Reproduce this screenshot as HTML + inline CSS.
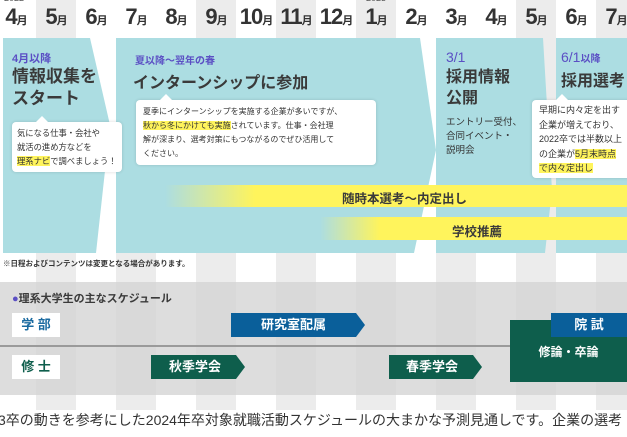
<!DOCTYPE html>
<html><head><meta charset="utf-8"><style>
*{margin:0;padding:0;box-sizing:border-box}
body{width:627px;height:437px;overflow:hidden;background:#fff;font-family:"Liberation Sans","Noto Sans CJK JP",sans-serif;position:relative;color:#3a3a3a}
.a{position:absolute;white-space:nowrap}
.m{position:absolute;top:4px;font-size:22px;font-weight:bold;color:#333;width:40px;text-align:center;letter-spacing:-1px}
.m small{font-size:11px}
.pur{color:#5b4fc4;font-weight:bold}
.h{font-weight:bold;color:#3a3a3a}
.cb{position:absolute;background:#fff;border-radius:4px;box-shadow:0 0 3px rgba(0,0,0,.15);font-size:8.5px;line-height:15px;padding:5px 7px;color:#333;white-space:nowrap;overflow:visible}
.cb:before{content:"";position:absolute;top:-6px;left:24px;border-left:6px solid transparent;border-right:6px solid transparent;border-bottom:6px solid #fff}
.hl{background:#fff45c}
.tag{position:absolute;color:#fff;font-weight:bold;font-size:13px;text-align:center;line-height:24px}
</style></head><body>
<svg class="a" style="left:0;top:0" width="627" height="437">
<g fill="#ececec">
<rect x="36" y="0" width="40" height="410"/><rect x="116" y="38" width="40" height="372"/><rect x="196" y="0" width="40" height="410"/><rect x="276" y="0" width="40" height="410"/><rect x="356" y="0" width="40" height="410"/><rect x="436" y="38" width="40" height="372"/><rect x="516" y="0" width="40" height="410"/><rect x="596" y="0" width="40" height="410"/>
</g>
<g fill="#acdde2">
<polygon points="3,38 90,38 110,125 96,253 3,253"/>
<polygon points="116,38 420,38 436,150 414,253 116,253"/>
<polygon points="436,38 543,38 552,190 545,253 436,253"/>
<polygon points="556,38 627,38 627,253 556,253"/>
</g>
<defs>
<linearGradient id="g1" x1="0" x2="1"><stop offset="0" stop-color="#fff45c" stop-opacity="0"/><stop offset="1" stop-color="#fff45c"/></linearGradient>
</defs>
<rect x="165" y="185" width="90" height="22" fill="url(#g1)"/><rect x="255" y="185" width="372" height="22" fill="#fff45c"/>
<rect x="320" y="217" width="60" height="23" fill="url(#g1)"/><rect x="380" y="217" width="247" height="23" fill="#fff45c"/>
<rect x="0" y="282" width="627" height="113" fill="#d4d4d4" fill-opacity="0.8"/>
<rect x="0" y="345" width="627" height="2" fill="#9a9a9a"/>
<polygon points="231,313 356,313 365,325 356,337 231,337" fill="#0a5f9a"/>
<polygon points="151,355 236,355 245,367 236,379 151,379" fill="#0e5e4c"/>
<polygon points="389,355 473,355 482,367 473,379 389,379" fill="#0e5e4c"/>
<rect x="510" y="320" width="117" height="62" fill="#0e5e4c"/>
<rect x="551" y="313" width="76" height="24" fill="#0a5f9a"/>
<rect x="12" y="313" width="48" height="24" fill="#fff"/><rect x="12" y="355" width="48" height="24" fill="#fff"/>
</svg>
<div class="a" style="left:4px;top:-7px;font-size:9px;color:#555">2022</div>
<div class="a" style="left:366px;top:-7px;font-size:9px;color:#555">2023</div>
<div class="m" style="left:-4px">4<small>月</small></div><div class="m" style="left:36px">5<small>月</small></div><div class="m" style="left:76px">6<small>月</small></div><div class="m" style="left:116px">7<small>月</small></div><div class="m" style="left:156px">8<small>月</small></div><div class="m" style="left:196px">9<small>月</small></div><div class="m" style="left:236px">10<small>月</small></div><div class="m" style="left:276px">11<small>月</small></div><div class="m" style="left:316px">12<small>月</small></div><div class="m" style="left:356px">1<small>月</small></div><div class="m" style="left:396px">2<small>月</small></div><div class="m" style="left:436px">3<small>月</small></div><div class="m" style="left:476px">4<small>月</small></div><div class="m" style="left:516px">5<small>月</small></div><div class="m" style="left:556px">6<small>月</small></div><div class="m" style="left:596px">7<small>月</small></div>

<div class="a pur" style="left:12px;top:50px;font-size:11px">4月以降</div>
<div class="a h" style="left:12px;top:66px;font-size:17px;line-height:22px">情報収集を<br>スタート</div>
<div class="cb" style="left:12px;top:122px;width:110px;padding:4px 5px;line-height:14px;font-size:8.3px">気になる仕事・会社や<br>就活の進め方などを<br><span class="hl">理系ナビ</span>で調べましょう！</div>

<div class="a pur" style="left:135px;top:52px;font-size:10px">夏以降～翌年の春</div>
<div class="a h" style="left:133px;top:69px;font-size:16px">インターンシップに参加</div>
<div class="cb" style="left:136px;top:100px;width:240px;height:65px;font-size:8px;line-height:14px">夏季にインターンシップを実施する企業が多いですが、<br><span class="hl">秋から冬にかけても実施</span>されています。仕事・会社理<br>解が深まり、選考対策にもつながるのでぜひ活用して<br>ください。</div>

<div class="a pur" style="left:446px;top:49px;font-size:14px;font-weight:normal">3/1</div>
<div class="a h" style="left:446px;top:67px;font-size:16px;line-height:21px">採用情報<br>公開</div>
<div class="a" style="left:446px;top:116px;font-size:9.5px;line-height:14px;color:#333">エントリー受付、<br>合同イベント・<br>説明会</div>

<div class="a pur" style="left:561px;top:49px;font-size:14px;font-weight:normal">6/1<span style="font-size:10px;font-weight:bold">以降</span></div>
<div class="a h" style="left:561px;top:67px;font-size:16px">採用選考</div>
<div class="cb" style="left:532px;top:100px;width:110px;height:78px;line-height:14.5px;padding:3px 7px;font-size:9px">早期に内々定を出す<br>企業が増えており、<br>2022卒では半数以上<br>の企業が<span class="hl">5月末時点</span><br><span class="hl">で内々定出し</span></div>

<div class="a h" style="left:342px;top:188px;font-size:12.5px">随時本選考～内定出し</div>
<div class="a h" style="left:452px;top:221px;font-size:12.5px">学校推薦</div>
<div class="a" style="left:3px;top:258px;font-size:7.5px;color:#333;font-weight:bold">※日程およびコンテンツは変更となる場合があります。</div>

<div class="a h" style="left:12px;top:290px;font-size:11px"><span style="color:#5b4fc4">●</span>理系大学生の主なスケジュール</div>
<div class="a" style="left:12px;top:313px;width:48px;line-height:24px;text-align:center;font-weight:bold;font-size:13px;color:#1a6aa0">学 部</div>
<div class="a" style="left:12px;top:355px;width:48px;line-height:24px;text-align:center;font-weight:bold;font-size:13px;color:#0e5e4c">修 士</div>
<div class="tag" style="left:231px;top:313px;width:125px">研究室配属</div>
<div class="tag" style="left:151px;top:355px;width:88px">秋季学会</div>
<div class="tag" style="left:389px;top:355px;width:86px">春季学会</div>
<div class="tag" style="left:551px;top:313px;width:76px">院 試</div>
<div class="tag" style="left:510px;top:340px;width:117px;font-size:12px">修論・卒論</div>

<div class="a" style="left:-2px;top:410px;font-size:14px;color:#333">3卒の動きを参考にした2024年卒対象就職活動スケジュールの大まかな予測見通しです。企業の選考</div>
</body></html>
